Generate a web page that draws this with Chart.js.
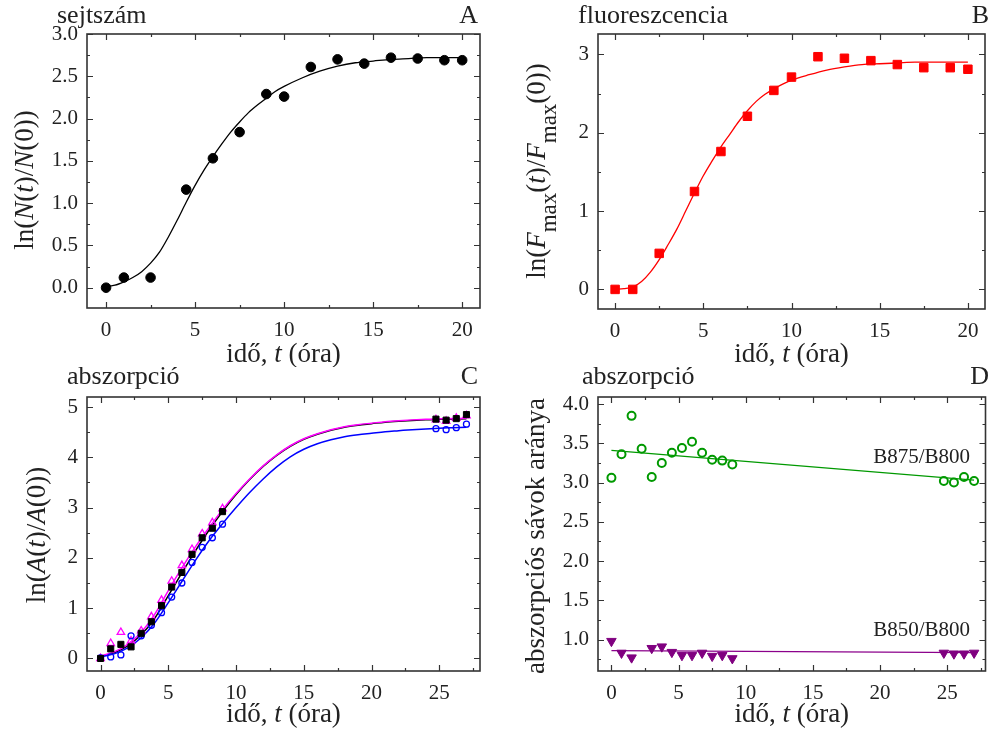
<!DOCTYPE html>
<html>
<head>
<meta charset="utf-8">
<script src="https://cdn.jsdelivr.net/npm/chart.js@4.4.0/dist/chart.umd.min.js"></script>
<style>
body { margin: 0; background: #fff; }
#page { position: relative; width: 992px; height: 735px; overflow: hidden; }
.panel { position: absolute; width: 496px; }
</style>
</head>
<body>
<div id="page">
  <div class="panel" style="left:0;top:0;height:367px"><canvas id="chartA"></canvas></div>
  <div class="panel" style="left:496px;top:0;height:367px"><canvas id="chartB"></canvas></div>
  <div class="panel" style="left:0;top:367px;height:368px"><canvas id="chartC"></canvas></div>
  <div class="panel" style="left:496px;top:367px;height:368px"><canvas id="chartD"></canvas></div>
</div>
<script>
var fontFamily = '"Liberation Serif", "Times New Roman", serif';
Chart.defaults.font.family = fontFamily;
Chart.defaults.color = '#222';
Chart.defaults.animation = false;

// A - sejtszám
var timeA = [0, 1, 2.5, 4.5, 6, 7.5, 9, 10, 11.5, 13, 14.5, 16, 17.5, 19, 20];
var cellsA = [0, 0.12, 0.12, 1.16, 1.53, 1.84, 2.29, 2.26, 2.61, 2.70, 2.65, 2.72, 2.71, 2.69, 2.69];
var fitTimeA = [0, 0.5, 1, 1.5, 2, 2.5, 3, 3.5, 4, 4.5, 5, 5.5, 6, 6.5, 7, 7.5, 8, 8.5, 9, 9.5, 10, 11, 12, 13, 14, 15, 16, 17, 18, 19, 20];
var fitCellsA = [0.01, 0.03, 0.07, 0.12, 0.19, 0.29, 0.42, 0.60, 0.80, 1.01, 1.21, 1.39, 1.55, 1.70, 1.84, 1.96, 2.07, 2.16, 2.24, 2.32, 2.38, 2.48, 2.56, 2.62, 2.66, 2.68, 2.70, 2.71, 2.72, 2.72, 2.72];

// B - fluoreszcencia
var timeB = [0, 1, 2.5, 4.5, 6, 7.5, 9, 10, 11.5, 13, 14.5, 16, 17.5, 19, 20];
var fluoB = [0, 0, 0.46, 1.25, 1.76, 2.21, 2.54, 2.71, 2.97, 2.95, 2.92, 2.87, 2.83, 2.83, 2.81];
var fitTimeB = [0, 0.5, 1, 1.5, 2, 2.5, 3, 3.5, 4, 4.5, 5, 5.5, 6, 6.5, 7, 7.5, 8, 8.5, 9, 9.5, 10, 11, 12, 13, 14, 15, 16, 17, 18, 19, 20];
var fitFluoB = [0, 0.01, 0.03, 0.10, 0.22, 0.38, 0.57, 0.77, 1.00, 1.23, 1.45, 1.64, 1.82, 1.98, 2.14, 2.28, 2.40, 2.49, 2.56, 2.62, 2.67, 2.74, 2.80, 2.84, 2.87, 2.88, 2.89, 2.90, 2.90, 2.90, 2.90];

// C - abszorpció
var timeC = [0, 0.75, 1.5, 2.25, 3, 3.75, 4.5, 5.25, 6, 6.75, 7.5, 8.25, 9, 24.75, 25.5, 26.25, 27];
var absBlack = [0, 0.19, 0.28, 0.23, 0.50, 0.73, 1.05, 1.42, 1.71, 2.07, 2.40, 2.59, 2.92, 4.76, 4.74, 4.77, 4.85];
var absMagenta = [0, 0.30, 0.52, 0.35, 0.55, 0.83, 1.16, 1.54, 1.85, 2.17, 2.48, 2.70, 2.98, 4.75, 4.72, 4.78, 4.83];
var absBlue = [0.01, 0.03, 0.07, 0.45, 0.45, 0.66, 0.91, 1.22, 1.50, 1.91, 2.21, 2.40, 2.67, 4.57, 4.55, 4.59, 4.66];
var fitTimeC = [0, 1, 2, 3, 4, 5, 6, 7, 8, 9, 10, 11, 12, 13, 14, 15, 16, 17, 18, 19, 20, 21, 22, 23, 24, 25, 26, 27];
var fitBlack = [0.04, 0.11, 0.25, 0.47, 0.80, 1.25, 1.70, 2.14, 2.55, 2.92, 3.26, 3.56, 3.82, 4.04, 4.22, 4.36, 4.46, 4.54, 4.60, 4.64, 4.67, 4.70, 4.72, 4.735, 4.745, 4.755, 4.76, 4.765];
var fitMagenta = [0.05, 0.13, 0.28, 0.52, 0.88, 1.35, 1.80, 2.22, 2.60, 2.96, 3.28, 3.57, 3.83, 4.05, 4.23, 4.37, 4.47, 4.55, 4.61, 4.65, 4.68, 4.71, 4.73, 4.745, 4.755, 4.765, 4.77, 4.775];
var fitBlue = [0.03, 0.09, 0.21, 0.41, 0.71, 1.11, 1.53, 1.95, 2.34, 2.68, 3.00, 3.30, 3.57, 3.81, 4.01, 4.16, 4.27, 4.35, 4.41, 4.45, 4.48, 4.51, 4.53, 4.55, 4.565, 4.58, 4.59, 4.60];

// D - sávok aránya
var timeD = [0, 0.75, 1.5, 2.25, 3, 3.75, 4.5, 5.25, 6, 6.75, 7.5, 8.25, 9, 24.75, 25.5, 26.25, 27];
var ratio875 = [3.06, 3.36, 3.85, 3.43, 3.07, 3.25, 3.38, 3.44, 3.52, 3.38, 3.29, 3.28, 3.23, 3.02, 3.00, 3.07, 3.02];
var timeD850 = [0, 0.75, 1.5, 3, 3.75, 4.5, 5.25, 6, 6.75, 7.5, 8.25, 9, 24.75, 25.5, 26.25, 27];
var ratio850 = [0.98, 0.83, 0.77, 0.89, 0.91, 0.84, 0.80, 0.80, 0.83, 0.79, 0.80, 0.76, 0.83, 0.82, 0.82, 0.83];
var fitTimeD = [0, 27];
var fit875 = [3.41, 3.03];
var fit850 = [0.86, 0.835];

// ticks
var xTicks20 = [0, 5, 10, 15, 20];
var xMinor20 = [2.5, 7.5, 12.5, 17.5];
var xTicks25 = [0, 5, 10, 15, 20, 25];
var xMinor25 = [2.5, 7.5, 12.5, 17.5, 22.5, 27.5];
var yTicksA = [0, 0.5, 1, 1.5, 2, 2.5, 3];
var yMinorA = [-0.25, 0.25, 0.75, 1.25, 1.75, 2.25, 2.75];
var yTicksB = [0, 1, 2, 3];
var yMinorB = [0.5, 1.5, 2.5];
var yTicksC = [0, 1, 2, 3, 4, 5];
var yMinorC = [0.5, 1.5, 2.5, 3.5, 4.5];
var yTicksD = [1, 1.5, 2, 2.5, 3, 3.5, 4];
var yMinorD = [0.75, 1.25, 1.75, 2.25, 2.75, 3.25, 3.75];

function pts(xs, ys) {
    return xs.map(function (x, i) { return {x: x, y: ys[i]}; });
}

function fitLine(xs, ys, color, width) {
    return {
        data: pts(xs, ys), showLine: true, pointRadius: 0, borderColor: color,
        borderWidth: width, cubicInterpolationMode: 'monotone', fill: false, order: 2
    };
}

function marks(xs, ys, style, color, radius, filled, bw, rotation) {
    return {
        data: pts(xs, ys), showLine: false, pointStyle: style, pointRadius: radius,
        pointBackgroundColor: filled ? color : 'rgba(0,0,0,0)', pointBorderColor: color,
        pointBorderWidth: bw, pointRotation: rotation || 0, order: 1
    };
}

// rich text: 0 normal, 1 italic, 2 subscript
function drawRich(ctx, segs, x, y, size, rot) {
    ctx.save();
    ctx.translate(x, y);
    ctx.rotate(rot);
    ctx.textAlign = 'left';
    ctx.textBaseline = 'alphabetic';
    var fontOf = function (s) {
        return (s[1] == 1 ? 'italic ' : '') + (s[1] == 2 ? Math.round(size * 0.87) : size) + 'px ' + fontFamily;
    };
    var total = 0;
    segs.forEach(function (s) { ctx.font = fontOf(s); total += ctx.measureText(s[0]).width; });
    var cx = -total / 2;
    segs.forEach(function (s) {
        ctx.font = fontOf(s);
        ctx.fillText(s[0], cx, s[1] == 2 ? size * 0.4 : 0);
        cx += ctx.measureText(s[0]).width;
    });
    ctx.restore();
}

var xTitle = [['idő, ', 0], ['t', 1], [' (óra)', 0]];

var decor = {
    chartA: {title: 'sejtszám', titleX: 57, letter: 'A', letterX: 478, titleY: 23,
        xTitleY: 362, yTitleX: 33, yTitleY: 180,
        yTitle: [['ln(', 0], ['N', 1], ['(', 0], ['t', 1], [')/', 0], ['N', 1], ['(0))', 0]]},
    chartB: {title: 'fluoreszcencia', titleX: 82, letter: 'B', letterX: 493, titleY: 23,
        xTitleY: 362, yTitleX: 49, yTitleY: 171,
        yTitle: [['ln(', 0], ['F', 1], ['max', 2], ['(', 0], ['t', 1], [')/', 0], ['F', 1], ['max', 2], ['(0))', 0]]},
    chartC: {title: 'abszorpció', titleX: 67, letter: 'C', letterX: 478, titleY: 17,
        xTitleY: 355, yTitleX: 45, yTitleY: 168,
        yTitle: [['ln(', 0], ['A', 1], ['(', 0], ['t', 1], [')/', 0], ['A', 1], ['(0))', 0]]},
    chartD: {title: 'abszorpció', titleX: 86, letter: 'D', letterX: 493, titleY: 17,
        xTitleY: 355, yTitleX: 48, yTitleY: 169,
        yTitle: [['abszorpciós sávok aránya', 0]],
        notes: [{text: 'B875/B800', x: 26.7, y: 3.32}, {text: 'B850/B800', x: 26.7, y: 1.11}]}
};

var decorPlugin = {
    id: 'decor',
    afterDraw: function (chart) {
        var o = decor[chart.canvas.id];
        if (!o || !o.ticks) return;
        var ctx = chart.ctx, a = chart.chartArea;
        var xs = chart.scales.x, ys = chart.scales.y;
        var t = o.ticks;
        ctx.save();
        ctx.strokeStyle = '#333';
        ctx.lineWidth = 1.2;
        ctx.beginPath();
        function xTick(v, len) {
            var p = Math.round(xs.getPixelForValue(v)) + 0.5;
            if (p < a.left || p > a.right) return;
            ctx.moveTo(p, a.bottom); ctx.lineTo(p, a.bottom - len);
            ctx.moveTo(p, a.top); ctx.lineTo(p, a.top + len);
        }
        function yTick(v, len) {
            var p = Math.round(ys.getPixelForValue(v)) + 0.5;
            if (p < a.top || p > a.bottom) return;
            ctx.moveTo(a.left, p); ctx.lineTo(a.left + len, p);
            ctx.moveTo(a.right, p); ctx.lineTo(a.right - len, p);
        }
        t.xMajor.forEach(function (v) { xTick(v, 6); });
        t.xMinor.forEach(function (v) { xTick(v, 3); });
        t.yMajor.forEach(function (v) { yTick(v, 6); });
        t.yMinor.forEach(function (v) { yTick(v, 3); });
        ctx.stroke();
        ctx.lineWidth = 1.6;
        ctx.strokeRect(a.left, a.top, a.right - a.left, a.bottom - a.top);

        ctx.fillStyle = '#222';
        ctx.font = '26px ' + fontFamily;
        ctx.textBaseline = 'alphabetic';
        ctx.textAlign = 'left';
        ctx.fillText(o.title, o.titleX, o.titleY);
        ctx.textAlign = 'right';
        ctx.fillText(o.letter, o.letterX, o.titleY);
        drawRich(ctx, xTitle, (a.left + a.right) / 2, o.xTitleY, 27, 0);
        drawRich(ctx, o.yTitle, o.yTitleX, o.yTitleY, 27, -Math.PI / 2);
        if (o.notes) {
            ctx.font = '21px ' + fontFamily;
            ctx.textAlign = 'right';
            ctx.textBaseline = 'middle';
            o.notes.forEach(function (n) {
                ctx.fillText(n.text, xs.getPixelForValue(n.x), ys.getPixelForValue(n.y));
            });
        }
        ctx.restore();
    }
};

function makeChart(id, c) {
    var W = 496, H = id == 'chartA' || id == 'chartB' ? 367 : 368;
    decor[id].ticks = {xMajor: c.xMajor, xMinor: c.xMinor, yMajor: c.yMajor, yMinor: c.yMinor};
    return new Chart(document.getElementById(id), {
        type: 'scatter',
        data: {datasets: c.datasets},
        plugins: [decorPlugin],
        options: {
            responsive: true,
            maintainAspectRatio: false,
            layout: {padding: {left: 0, top: c.box[2], right: W - c.box[1], bottom: 0}},
            plugins: {legend: {display: false}, tooltip: {enabled: false}},
            scales: {
                x: {
                    type: 'linear', min: c.x[0], max: c.x[1],
                    grid: {display: false, drawTicks: false}, border: {display: false},
                    afterFit: function (s) { s.height = H - c.box[3]; },
                    afterBuildTicks: function (s) { s.ticks = c.xMajor.map(function (v) { return {value: v}; }); },
                    ticks: {font: {size: 21}, padding: 10, maxRotation: 0, autoSkip: false, color: '#222'}
                },
                y: {
                    type: 'linear', min: c.y[0], max: c.y[1],
                    grid: {display: false, drawTicks: false}, border: {display: false},
                    afterFit: function (s) { s.width = c.box[0]; },
                    afterBuildTicks: function (s) { s.ticks = c.yMajor.map(function (v) { return {value: v}; }); },
                    ticks: {font: {size: 21}, padding: 9, autoSkip: false, color: '#222',
                        callback: function (v) { return c.yFmt ? v.toFixed(1) : String(v); }}
                }
            }
        }
    });
}

makeChart('chartA', {
    box: [87, 480, 34, 308], x: [-1.07, 21], y: [-0.24, 3.0],
    xMajor: xTicks20, xMinor: xMinor20, yMajor: yTicksA, yMinor: yMinorA, yFmt: true,
    datasets: [
        fitLine(fitTimeA, fitCellsA, '#000', 1.3),
        marks(timeA, cellsA, 'circle', '#000', 4.8, true, 1)
    ]
});

makeChart('chartB', {
    box: [102, 493, 34, 309], x: [-0.97, 20.97], y: [-0.25, 3.26],
    xMajor: xTicks20, xMinor: xMinor20, yMajor: yTicksB, yMinor: yMinorB, yFmt: false,
    datasets: [
        fitLine(fitTimeB, fitFluoB, '#ff0000', 1.3),
        marks(timeB, fluoB, 'rect', '#ff0000', 6, true, 1)
    ]
});

makeChart('chartC', {
    box: [87, 480, 30, 304], x: [-1.0, 28.0], y: [-0.25, 5.2],
    xMajor: xTicks25, xMinor: xMinor25, yMajor: yTicksC, yMinor: yMinorC, yFmt: false,
    datasets: [
        fitLine(fitTimeC, fitBlue, '#0000ff', 1.5),
        fitLine(fitTimeC, fitMagenta, '#ff00ff', 1.5),
        fitLine(fitTimeC, fitBlack, '#000', 1.5),
        marks(timeC, absBlack, 'rect', '#000', 4.3, true, 1),
        marks(timeC, absBlue, 'circle', '#0000ff', 3, false, 1.3),
        marks(timeC, absMagenta, 'triangle', '#ff00ff', 4.3, false, 1.3)
    ]
});

makeChart('chartD', {
    box: [102, 493, 30, 304], x: [-1.0, 27.85], y: [0.6, 4.09],
    xMajor: xTicks25, xMinor: xMinor25, yMajor: yTicksD, yMinor: yMinorD, yFmt: true,
    datasets: [
        fitLine(fitTimeD, fit875, '#009900', 1.3),
        fitLine(fitTimeD, fit850, '#8b008b', 1.3),
        marks(timeD, ratio875, 'circle', '#009900', 4, false, 2),
        marks(timeD850, ratio850, 'triangle', '#800080', 5.5, true, 1, 180)
    ]
});
</script>
</body>
</html>
